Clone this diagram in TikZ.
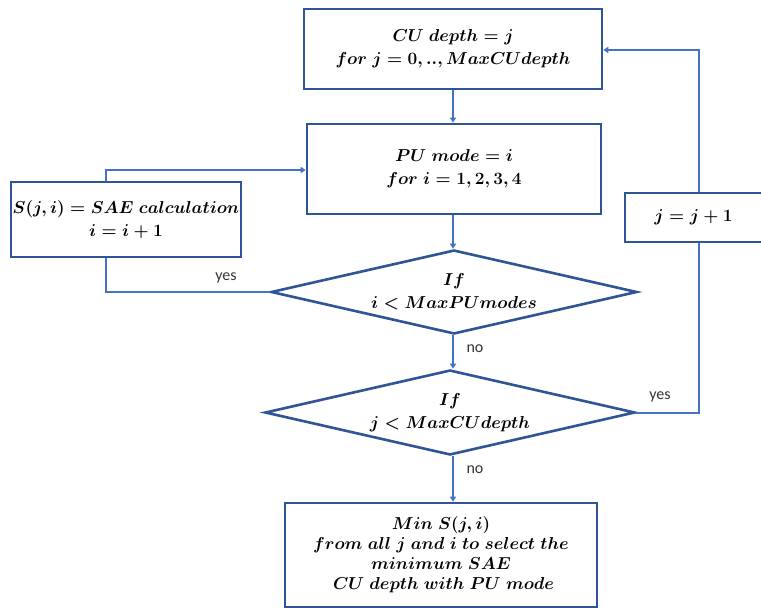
\documentclass[tikz,border=0pt]{standalone}
\usepackage{fontspec}
\newfontfamily\labelfont{Carlito}
\usetikzlibrary{shapes.geometric,arrows.meta}
\definecolor{boxblue}{HTML}{2F5597}
\definecolor{lineblue}{HTML}{4472C4}
\tikzset{
  stepbox/.style={draw=boxblue,line width=2.6pt,fill=white,align=center,inner sep=0pt,
    font=\fontsize{17.5}{23}\selectfont\boldmath},
  decision/.style={diamond,aspect=4.4,draw=boxblue,line width=2.6pt,fill=white,align=center,
    inner sep=0pt,font=\fontsize{17.5}{23}\selectfont\boldmath},
  flow/.style={draw=lineblue,line width=2pt},
  flowarrow/.style={flow,-{Triangle[width=6pt,length=5pt]}},
  tag/.style={font=\labelfont\fontsize{16}{18}\selectfont,text=black!80}
}
\begin{document}
\begin{tikzpicture}[x=1pt,y=-1pt]
\useasboundingbox (0,0) rectangle (761,611);

% process boxes
\node[stepbox,minimum width=298pt,minimum height=80pt] (cu) at (453,49)
  {$CU\ depth = j$\\ $for\ j = 0,..,MaxCUdepth$};
\node[stepbox,minimum width=294pt,minimum height=90pt] (pu) at (454,169)
  {$PU\ mode = i$\\ $for\ i = 1,2,3,4$};
\node[stepbox,minimum width=230pt,minimum height=75pt] (sae) at (126,219.5)
  {$S(j,i) = SAE\ calculation$\\ $i = i + 1$};
\node[stepbox,minimum width=137pt,minimum height=49pt] (inc) at (693.5,217.5)
  {$j = j + 1$};
\node[stepbox,minimum width=312pt,minimum height=104pt,
  font=\fontsize{17.5}{20}\selectfont\boldmath] (res) at (441,555)
  {$Min\ S(j,i)$\\ $from\ all\ j\ and\ i\ to\ select\ the$\\ $minimum\ SAE$\\ $\ CU\ depth\ with\ PU\ mode$};

% decisions
\node[decision,minimum width=366pt,minimum height=84pt] (dpu) at (454,292)
  {$If$\\ $i < MaxPUmodes$};
\node[decision,minimum width=370pt,minimum height=85pt] (dcu) at (450,412.5)
  {$If$\\ $j < MaxCUdepth$};

% corner points of the loops
\coordinate (l1) at (106,292);
\coordinate (l2) at (106,170);
\coordinate (r1) at (699,412.5);
\coordinate (r2) at (699,50);

% connectors
\draw[flowarrow] (cu.south -| 453,0) -- (pu.north -| 453,0);
\draw[flowarrow] (pu.south -| 453,0) -- (dpu.north -| 453,0);
\draw[flow] (dpu.west) -- (l1) -- (sae.south -| l1);
\draw[flowarrow] (sae.north -| l2) -- (l2) -- (pu.west |- l2);
\draw[flowarrow] (dpu.south -| 453,0) -- (dcu.north -| 453,0);
\draw[flow] (dcu.east) -- (r1) -- (inc.south -| r1);
\draw[flowarrow] (inc.north -| r2) -- (r2) -- (cu.east |- r2);
\draw[flowarrow] (dcu.south -| 453,0) -- (res.north -| 453,0);

% branch labels
\node[tag] (yes1) at (226,278) {yes};
\node[tag] (no1) at (475,349) {no};
\node[tag] (yes2) at (660,397) {yes};
\node[tag] (no2) at (475,470) {no};
\end{tikzpicture}
\end{document}
